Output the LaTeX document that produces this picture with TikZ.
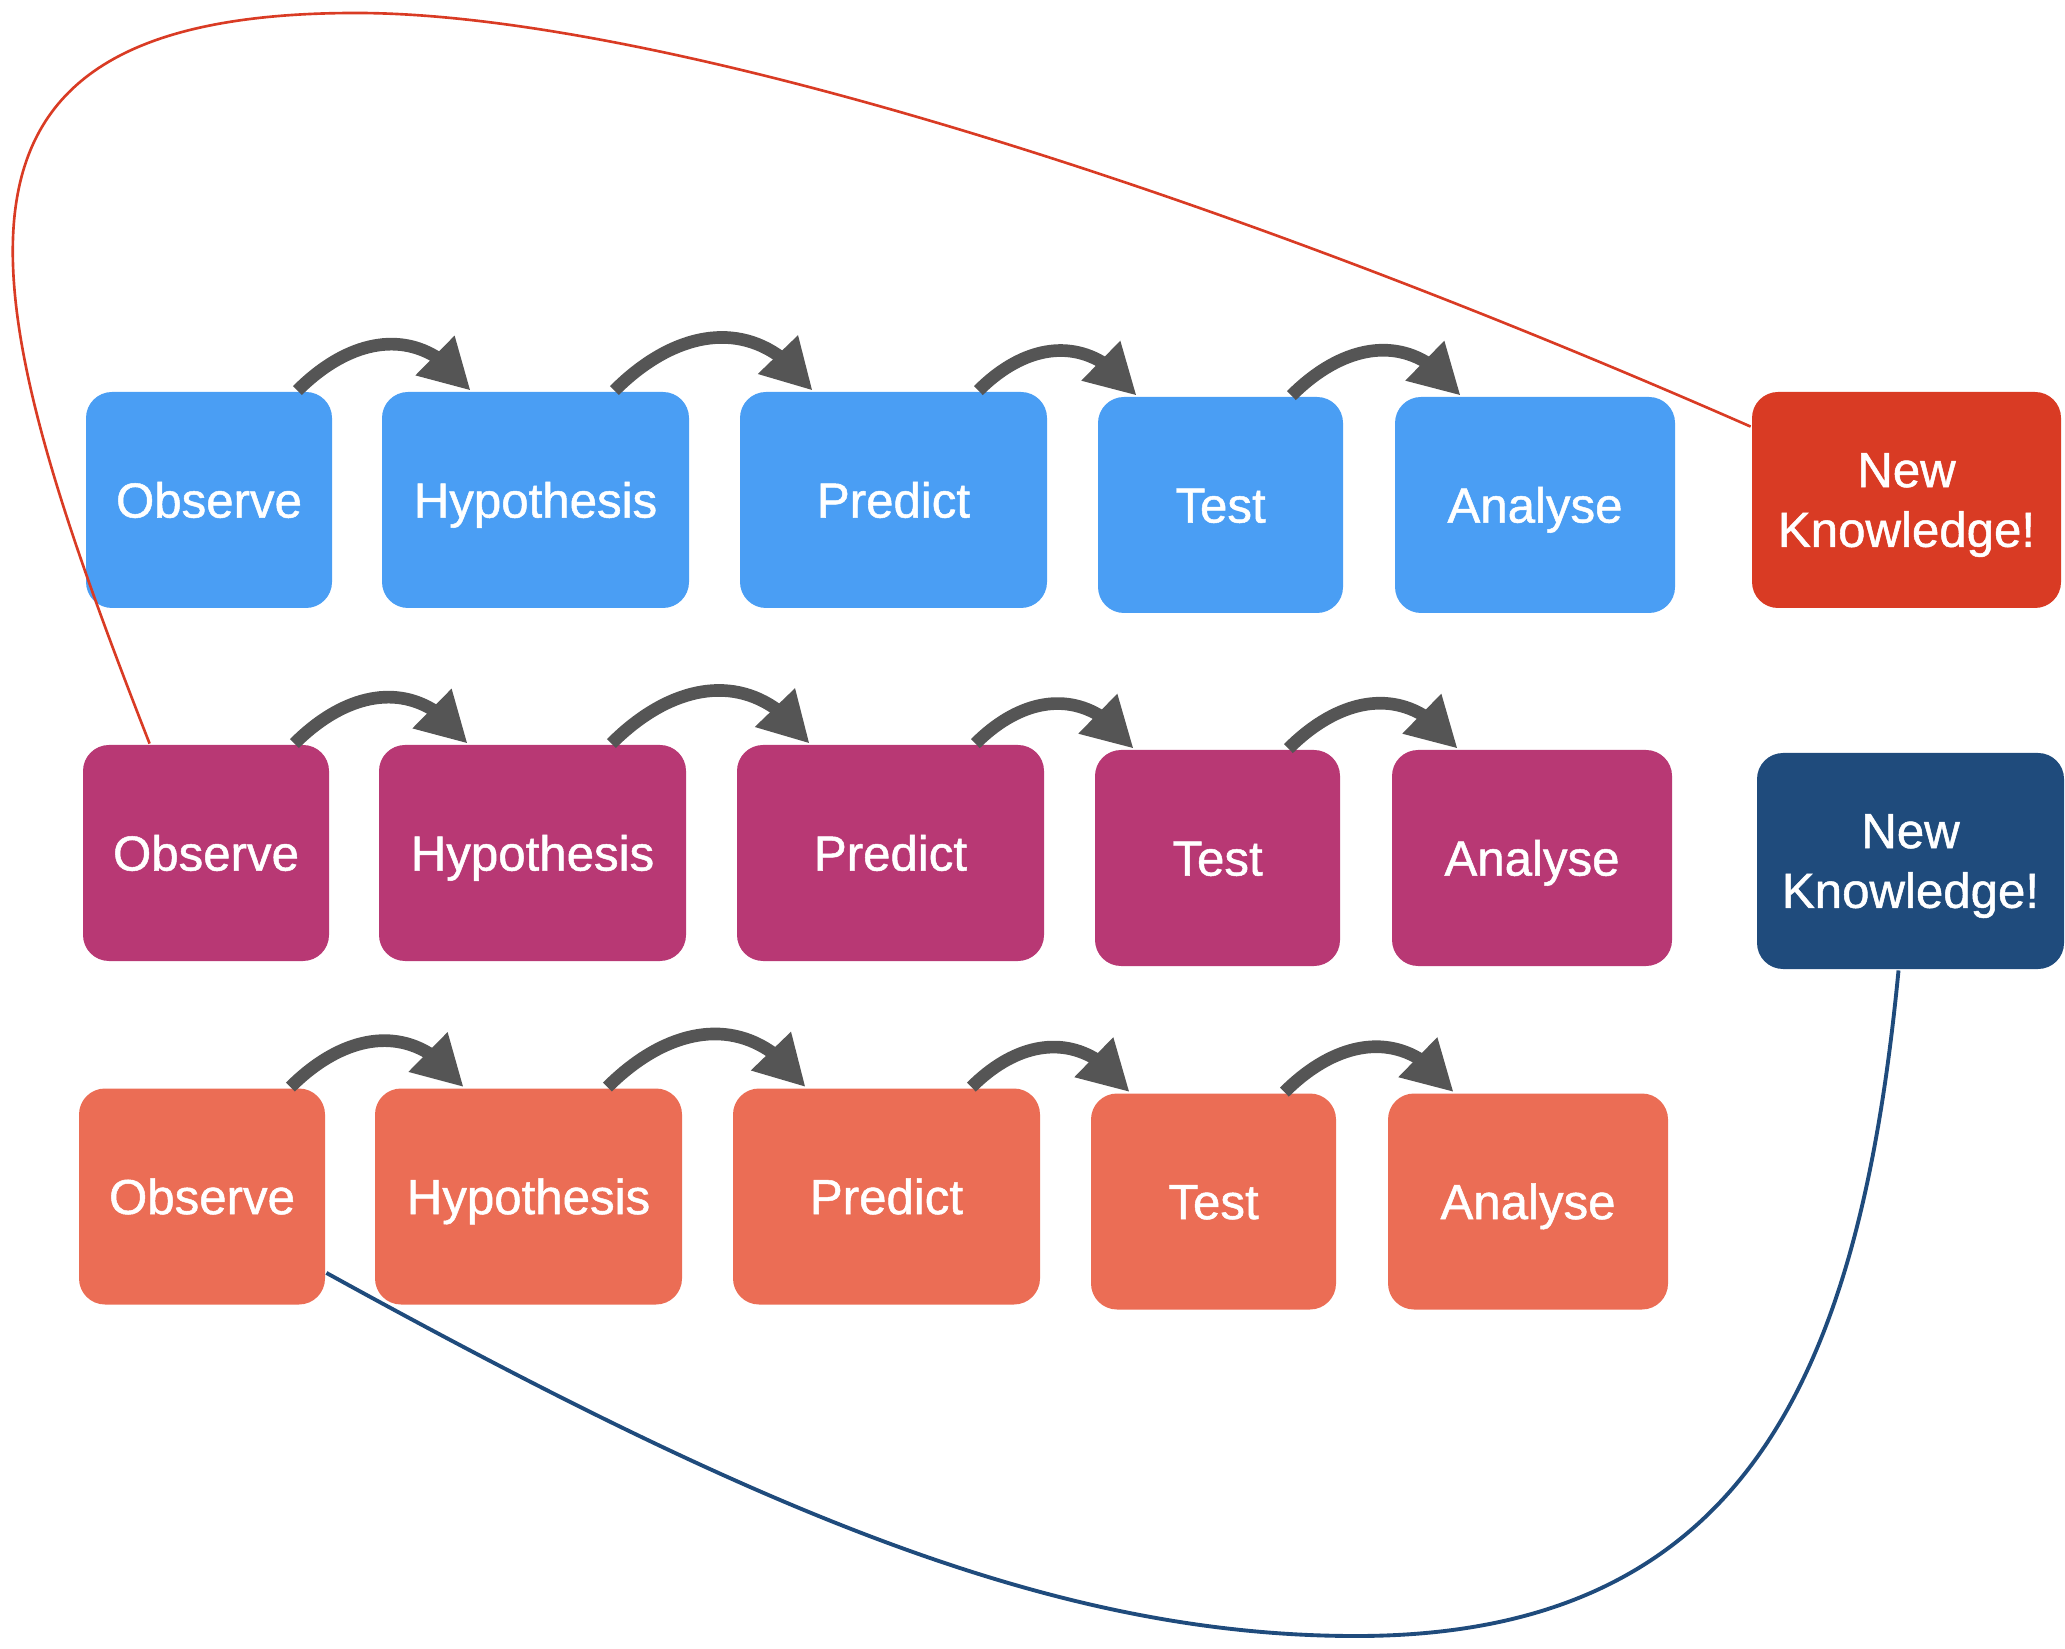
\documentclass[tikz,border=0pt]{standalone}
\usepackage{fontspec}
\setmainfont{Liberation Sans}
\newfontfamily\boxfont{Liberation Sans}[FakeBold=1]
\usetikzlibrary{arrows.meta,bending}

\definecolor{skyblue}{HTML}{4A9EF4}
\definecolor{berry}{HTML}{B83874}
\definecolor{salmon}{HTML}{EB6D55}
\definecolor{newred}{HTML}{D93B24}
\definecolor{navy}{HTML}{1F4B7C}
\definecolor{hopgray}{HTML}{555555}

\begin{document}
\begin{tikzpicture}[thick,
  box/.style={rounded corners=2.6mm,text=white,inner sep=0pt,align=center,
    minimum height=2.16cm,font=\boxfont\fontsize{14}{17}\selectfont},
  step box/.style={box,text height=10pt,text depth=0pt},
  hop/.style={line width=3.6pt,draw=hopgray,
    -{Triangle[length=5mm,width=5.2mm]},out=45,in=125,looseness=1.2}]

\useasboundingbox (0,0) rectangle (20.65,16.48);

% the three rounds of the method
\foreach \r/\y/\dx/\col in {1/11.48/0/skyblue,2/7.95/-0.03/berry,3/4.515/-0.07/salmon}{
  \node[step box,fill=\col,minimum width=2.46cm] (O\r) at ({2.09+\dx},\y) {Observe};
  \node[step box,fill=\col,minimum width=3.07cm] (H\r) at ({5.355+\dx},\y) {Hypothesis};
  \node[step box,fill=\col,minimum width=3.07cm] (P\r) at ({8.935+\dx},\y) {Predict};
  \node[step box,fill=\col,minimum width=2.45cm] (T\r) at ({12.205+\dx},\y-0.05) {Test};
  \node[step box,fill=\col,minimum width=2.80cm] (A\r) at ({15.35+\dx},\y-0.05) {Analyse};

  \draw[hop] ([xshift=-3.6mm]O\r.north east) to ([xshift=9mm]H\r.north west);
  \draw[hop] ([xshift=-7.6mm]H\r.north east) to ([xshift=7.4mm]P\r.north west);
  \draw[hop] ([xshift=-7mm]P\r.north east) to ([xshift=4mm]T\r.north west);
  \draw[hop] ([xshift=-5.3mm]T\r.north east) to ([xshift=6.7mm]A\r.north west);
}

\node[box,fill=newred,minimum width=3.09cm,text depth=0pt] (K1) at (19.065,11.48) {New\\Knowledge!};
\node[box,fill=navy,minimum width=3.07cm,text depth=0pt] (K2) at (19.105,7.87) {New\\Knowledge!};

% back to the start
\coordinate (top) at (3.56,16.35);
\draw[newred,line width=0.75pt] ([yshift=-3.6mm]K1.north west)
  .. controls (11.5,14.85) and (6.3,16.35) .. (top)
  .. controls (-0.94,16.35) and (-0.32,13.68) .. ([xshift=6.8mm]O2.north west);

\coordinate (bot) at (13.56,0.12);
\draw[navy,line width=1.1pt] ([xshift=-1.2mm]K2.south)
  .. controls (18.6,2.8) and (17.5,0.12) .. (bot)
  .. controls (10.56,0.12) and (7.62,1.35) .. ([yshift=3.3mm]O3.south east);

\end{tikzpicture}
\end{document}
